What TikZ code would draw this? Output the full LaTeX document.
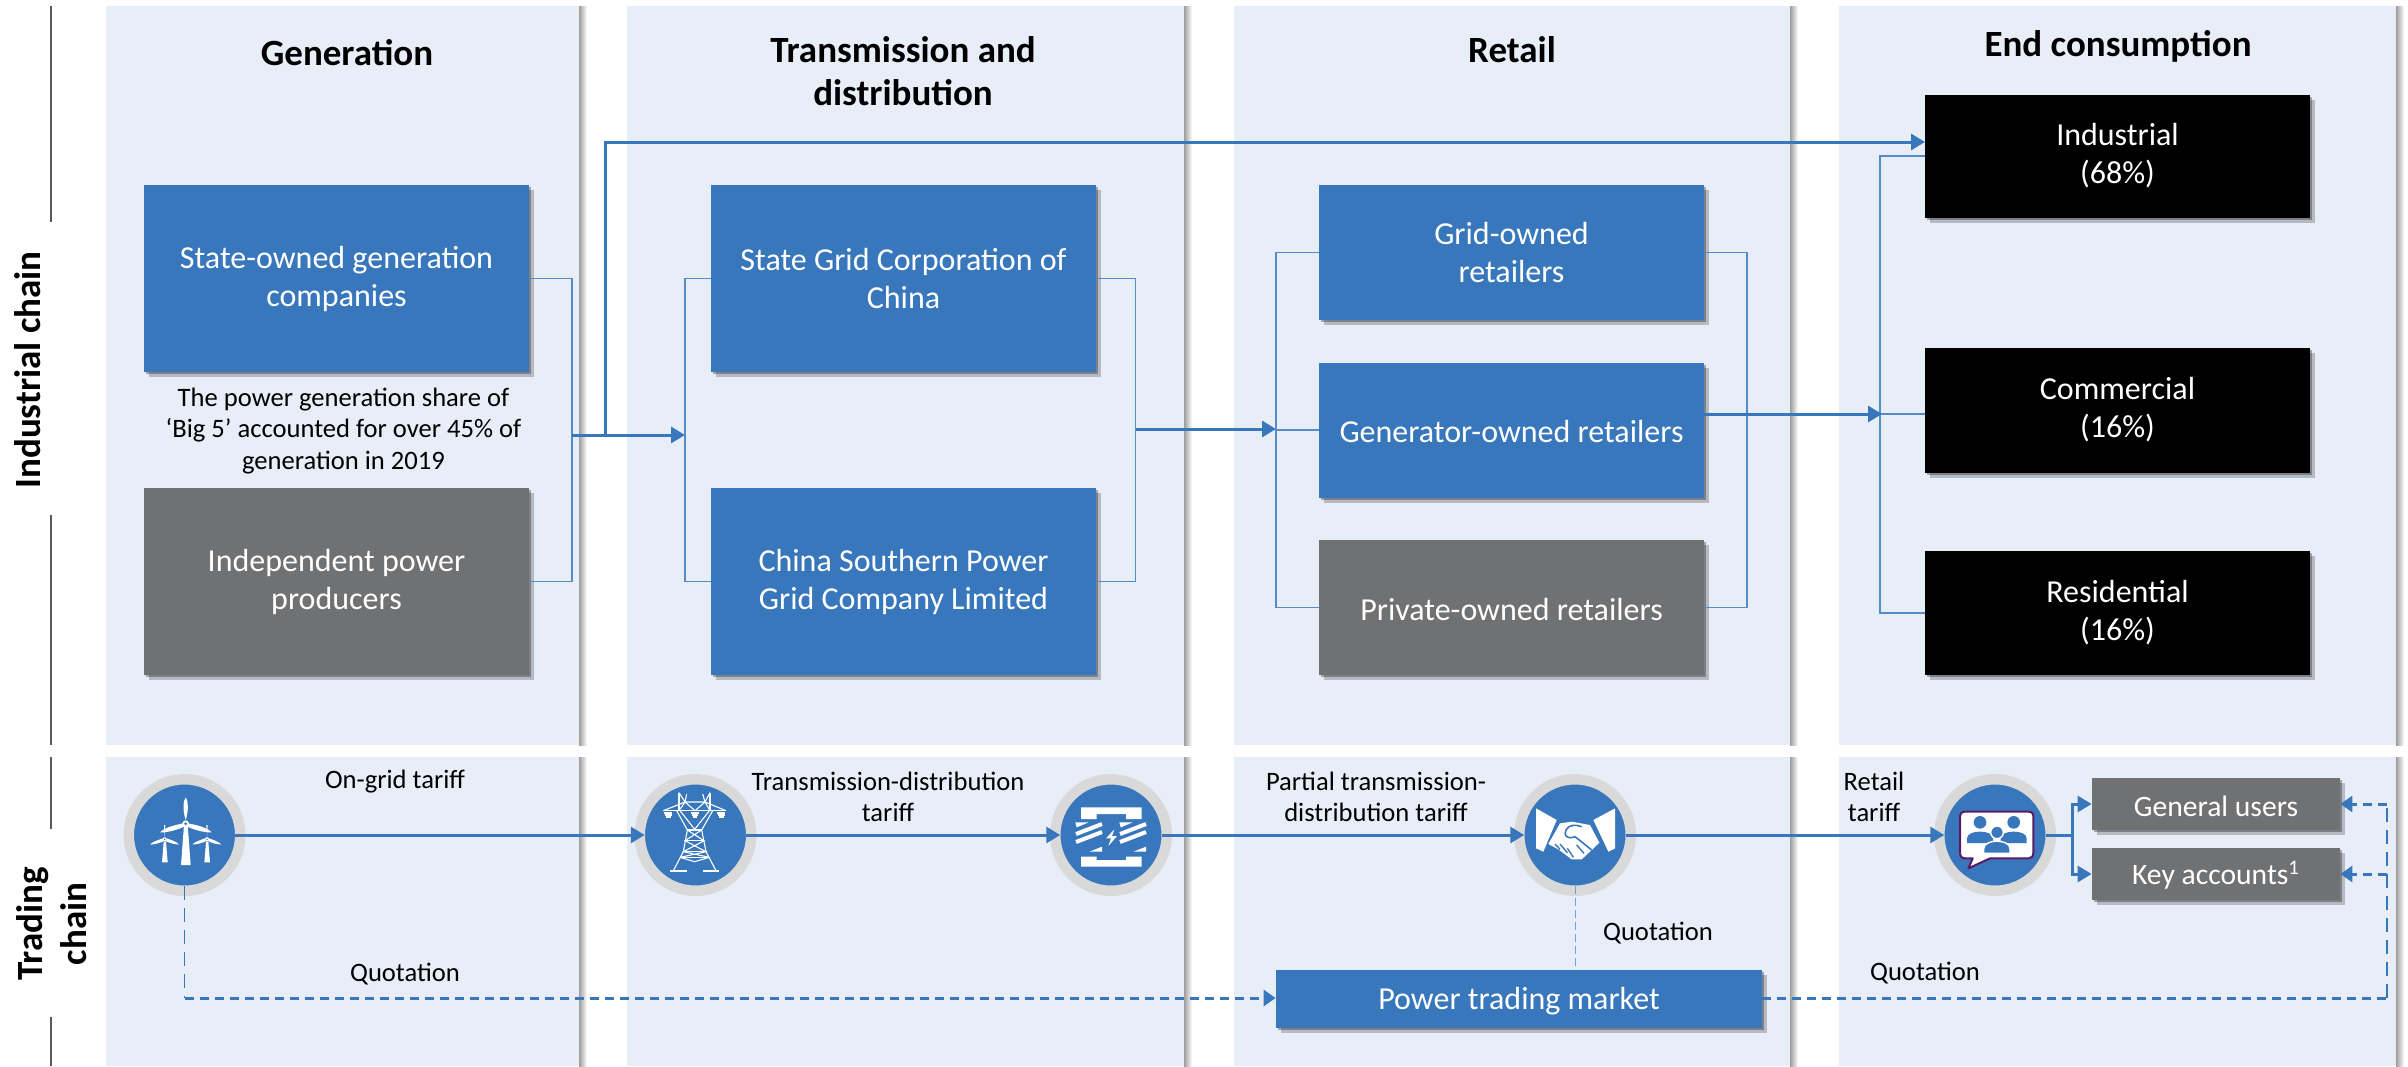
\documentclass[tikz,border=0pt]{standalone}
\usepackage{fontspec}
\setmainfont{Carlito}
\usetikzlibrary{positioning,shadows,arrows.meta}
\definecolor{panelblue}{HTML}{E8EEF8}
\definecolor{boxblue}{HTML}{3877BC}
\definecolor{boxgrey}{HTML}{707173}
\definecolor{ringgrey}{HTML}{D9D9D9}
\definecolor{bubblepurple}{HTML}{5A1B62}

\tikzset{
	softshadow/.style = {drop shadow={shadow xshift=1.2pt, shadow yshift=-1.2pt, opacity=.3, fill=black},
		drop shadow={shadow xshift=2.6pt, shadow yshift=-2.6pt, opacity=.22, fill=black}},
	box/.style = {shape=rectangle, align=center, text=white, inner sep=0pt, softshadow,
		font=\fontsize{16}{19}\selectfont, execute at begin node={\rule{0pt}{13pt}}},
	bluebox/.style = {box, fill=boxblue},
	greybox/.style = {box, fill=boxgrey},
	blackbox/.style = {box, fill=black, execute at begin node={\rule{0pt}{14.5pt}}},
	hub/.style = {shape=circle, fill=boxblue, draw=ringgrey, line width=5.25pt,
		minimum size=55.75pt, inner sep=0pt, outer sep=-2.5pt},
	head/.style = {align=center, font=\fontsize{18.5}{21.5}\selectfont\bfseries},
	side/.style = {align=center, rotate=90, font=\fontsize{18.5}{22}\selectfont\bfseries},
	note/.style = {align=center, font=\fontsize{13.3}{15.8}\selectfont},
	thinline/.style = {draw=boxblue!85!white, line width=.75pt},
	flow/.style = {draw=boxblue, line width=1.5pt, -{Triangle[length=7pt,width=8pt]}},
	quote/.style = {draw=boxblue, line width=1.5pt, dash pattern=on 4.5pt off 3pt},
	quotetip/.style = {quote, -{Triangle[length=6pt,width=8pt]}},
	quotethin/.style = {draw=boxblue, line width=.7pt, dash pattern=on 7pt off 4pt},
	rule/.style = {draw=black!65, line width=.75pt}
}

\begin{document}
\begin{tikzpicture}[x=.5pt, y=-.5pt]
	\useasboundingbox (0,0) rectangle (2408,1066);

	\foreach \xa/\xb in {106/579, 627/1184, 1234/1790, 1839/2396} {
		\fill[panelblue] (\xa,6) rectangle (\xb,745);
		\fill[panelblue] (\xa,757) rectangle (\xb,1066);
		\shade[left color=black!38, right color=white] (\xb,6) rectangle (\xb+8,745);
		\shade[left color=black!38, right color=white] (\xb,757) rectangle (\xb+8,1066);
	}

	\draw[rule] (51,6) -- (51,222);
	\draw[rule] (51,515) -- (51,745);
	\draw[rule] (51,757) -- (51,829);
	\draw[rule] (51,1017) -- (51,1066);
	\node[side] (industrialchain) at (28,370) {Industrial chain};
	\node[side] (tradingchain) at (52,924) {Trading\\chain};

	\node[head] (generation) at (347,53) {Generation};
	\node[head] (transmission) at (903,71) {Transmission and\\distribution};
	\node[head] (retail) at (1512,50) {Retail};
	\node[head] (consumption) at (2118,46) {End consumption};

	\node[bluebox, minimum width=192.5pt, minimum height=93.5pt] (stategen) at (336.5,278.5) {State-owned generation\\companies};
	\node[greybox, minimum width=192.5pt, minimum height=93.5pt] (indep) at (336.5,581.5) {Independent power\\producers};
	\node[note] (bigfive) at (343.5,431) {The power generation share of\\‘Big 5’ accounted for over 45\% of\\generation in 2019};

	\node[bluebox, minimum width=192.5pt, minimum height=93.5pt] (stategrid) at (903.5,278.5) {State Grid Corporation of\\China};
	\node[bluebox, minimum width=192.5pt, minimum height=93.5pt] (southern) at (903.5,581.5) {China Southern Power\\Grid Company Limited};

	\node[bluebox, minimum width=192.5pt, minimum height=67.5pt] (gridown) at (1511.5,252.5) {Grid-owned\\retailers};
	\node[bluebox, minimum width=192.5pt, minimum height=67.5pt] (genown) at (1511.5,430) {Generator-owned retailers};
	\node[greybox, minimum width=192.5pt, minimum height=67.5pt] (privown) at (1511.5,607.5) {Private-owned retailers};

	\node[blackbox, minimum width=192.5pt, minimum height=61.5pt] (industrial) at (2117.5,156) {Industrial\\(68\%)};
	\node[blackbox, minimum width=192.5pt, minimum height=62.5pt] (commercial) at (2117.5,410) {Commercial\\(16\%)};
	\node[blackbox, minimum width=192.5pt, minimum height=62pt] (residential) at (2117.5,613) {Residential\\(16\%)};

	\coordinate (genjoin) at (572,435);
	\coordinate (genbranch) at (605,435);
	\coordinate (gridjoin) at (685,435);
	\coordinate (gridout) at (1135.5,429);
	\coordinate (retailjoin) at (1276,429);
	\coordinate (retailout) at (1747,414);
	\coordinate (endjoin) at (1882,414);
	\coordinate (endrail) at (1880,414);
	\coordinate (topin) at (1925,142);

	\draw[thinline] (stategen.east) -| (genjoin) |- (indep.east);
	\draw[thinline] (stategrid.west) -| (gridjoin) |- (southern.west);
	\draw[thinline] (stategrid.east) -| (gridout) |- (southern.east);
	\draw[thinline] (gridown.west) -| (retailjoin) |- (privown.west);
	\draw[thinline] (retailjoin |- genown.west) -- (genown.west);
	\draw[thinline] (gridown.east) -| (retailout) |- (privown.east);
	\draw[thinline] (industrial.west) -| (endrail) |- (residential.west);
	\draw[thinline] (endrail) -- (endrail -| commercial.west);

	\draw[flow] (genjoin) -- (gridjoin);
	\draw[flow] (genbranch) |- (topin);
	\draw[flow] (gridout) -- (retailjoin);
	\draw[flow] (genown.east |- retailout) -- (endjoin);

	\node[hub] (wind) at (184.5,835) {};
	\node[hub] (pylon) at (695.5,835) {};
	\node[hub] (compress) at (1111,835) {};
	\node[hub] (handshake) at (1575,835) {};
	\node[hub] (chat) at (1995,835) {};

	\node[bluebox, minimum width=243pt, minimum height=29pt] (market) at (1519,999) {Power trading market};
	\node[greybox, minimum width=124pt, minimum height=26pt, font=\fontsize{14.8}{17}\selectfont] (general) at (2216,804) {General users};
	\node[greybox, minimum width=124pt, minimum height=26pt, font=\fontsize{14.8}{17}\selectfont] (key) at (2216,874) {Key accounts\textsuperscript{1}};

	\node[note] (ongrid) at (395,782) {On-grid tariff};
	\node[note] (tdtariff) at (888,797) {Transmission-distribution\\tariff};
	\node[note] (partial) at (1376,797) {Partial transmission-\\distribution tariff};
	\node[note] (retailtariff) at (1874,797) {Retail\\tariff};
	\node[note] (quotea) at (405,974) {Quotation};
	\node[note] (quoteb) at (1658,933) {Quotation};
	\node[note] (quotec) at (1925,973) {Quotation};

	\coordinate (windcorner) at (184.5,998);
	\coordinate (chatfork) at (2072,835);
	\coordinate (quotecorner) at (2387,998);

	\draw[flow] (wind) -- (pylon);
	\draw[flow] (pylon) -- (compress);
	\draw[flow] (compress) -- (handshake);
	\draw[flow] (handshake) -- (chat);
	\draw[flow] (chat) -- (chatfork) |- (general.west);
	\draw[flow] (chat) -- (chatfork) |- (key.west);

	\draw[quotethin] (wind) -- (windcorner);
	\draw[quotetip] (windcorner) -- (windcorner -| market.west);
	\draw[quotethin, draw=boxblue!70!white, line width=.5pt, dash pattern=on 4pt off 2pt] (handshake) -- (handshake |- market.north);
	\draw[quote] (windcorner -| market.east) -- (quotecorner);
	\draw[quotethin] (quotecorner) -- (quotecorner |- general.east);
	\draw[quotetip] (quotecorner |- general.east) -- (general.east);
	\draw[quotetip] (quotecorner |- key.east) -- (key.east);

	\begin{scope}[shift={(120,770)}, x=.1667pt, y=-.1667pt, white]
		\fill (183,285) -- (192,165) -- (203,165) -- (212,285) -- cycle;
		\fill (197,150) .. controls (187,120) and (190,90) .. (197,82) .. controls (204,90) and (207,120) .. (197,150) -- cycle;
		\fill (190,160) .. controls (165,165) and (135,172) .. (120,187) .. controls (145,188) and (175,178) .. (192,170) -- cycle;
		\fill (204,160) .. controls (230,165) and (260,172) .. (275,187) .. controls (250,188) and (220,178) .. (202,170) -- cycle;
		\fill (197,161) circle (10);
		\fill[boxblue] (197,161) circle (4.5);
		\foreach \dx in {0,127} {
			\begin{scope}[xshift=\dx*.1667pt]
				\fill (126,277) -- (131,215) -- (138,215) -- (143,277) -- cycle;
				\fill (134,200) -- (132,165) -- (136,165) -- cycle;
				\fill (128,205) .. controls (115,210) and (100,214) .. (90,223) .. controls (105,224) and (120,218) .. (130,214) -- cycle;
				\fill (140,205) .. controls (153,210) and (168,214) .. (177,223) .. controls (163,224) and (148,218) .. (138,214) -- cycle;
				\fill (134,208) circle (6.5);
				\fill[boxblue] (134,208) circle (2.5);
			\end{scope}
		}
	\end{scope}

	\begin{scope}[shift={(630,770)}, x=.1667pt, y=-.1667pt, draw=white, line width=.55pt]
		\draw (100,122) -- (288,122);
		\draw (100,122) -- (165,96) -- (225,96) -- (288,122);
		\draw (147,68) -- (165,96) -- (170,72) ;
		\draw (240,68) -- (225,96) -- (218,72);
		\draw (147,68) -- (147,122) (240,68) -- (240,122);
		\draw (147,122) -- (165,96) -- (195,122) -- (225,96) -- (240,122);
		\draw (140,122) -- (172,180) -- (160,245) -- (130,302) (248,122) -- (215,180) -- (228,245) -- (258,302);
		\draw (172,180) -- (215,180) (165,212) -- (222,212) (160,245) -- (228,245) (150,262) -- (238,262);
		\draw (172,180) -- (222,212) -- (160,245) -- (238,262) (215,180) -- (165,212) -- (228,245) -- (150,262);
		\draw (150,122) -- (194,178) -- (238,122);
		\draw (150,262) -- (194,275) -- (238,262);
		\draw[line width=1pt] (120,303) -- (170,303) (218,303) -- (268,303);
		\foreach \ix in {115,195,274} {
			\draw[line width=.9pt] (\ix-12,128) -- (\ix+12,128) (\ix-10,134) -- (\ix+10,134) (\ix-7,140) -- (\ix+7,140);
		}
	\end{scope}

	\begin{scope}[shift={(1046,770)}, x=.1667pt, y=-.1667pt, white]
		\fill (105,112) -- (287,112) -- (287,147) -- (240,147) -- (240,132) -- (152,132) -- (152,147) -- (105,147) -- cycle;
		\fill (105,290) -- (287,290) -- (287,260) -- (240,260) -- (240,270) -- (152,270) -- (152,260) -- (105,260) -- cycle;
		\foreach \dx in {0,132} {
			\begin{scope}[xshift=\dx*.1667pt]
				\draw[line width=2pt] (90,192) -- (168,162) (90,216) -- (168,186);
				\fill (88,157) -- (128,157) -- (92,172) -- cycle;
				\fill (130,245) -- (168,230) -- (168,245) -- cycle;
			\end{scope}
		}
		\fill (205,178) -- (180,205) -- (195,205) -- (187,228) -- (213,198) -- (198,198) -- cycle;
	\end{scope}

	\begin{scope}[shift={(1510,770)}, x=.1667pt, y=-.1667pt, white]
		\fill (78,115) -- (140,150) -- (100,245) -- (78,235) -- cycle;
		\fill (315,115) -- (250,150) -- (295,245) -- (315,235) -- cycle;
		\fill (150,160) -- (185,155) -- (240,165) -- (268,218) -- (245,240) -- (215,268) -- (185,268) -- (145,238) -- (115,222) -- cycle;
		\draw[boxblue, line width=.8pt] (195,200) .. controls (170,210) and (160,195) .. (168,180) .. controls (175,165) and (195,162) .. (215,170);
		\draw[boxblue, line width=.8pt] (195,200) -- (245,240);
		\draw[boxblue, line width=.7pt] (135,222) -- (150,238) (150,222) -- (172,248) (172,235) -- (190,262) (200,225) -- (222,250);
	\end{scope}

	\begin{scope}[shift={(1930,770)}, x=.1667pt, y=-.1667pt]
		\draw[fill=white, draw=bubblepurple, line width=1pt, line join=round] (105,125) -- (295,125) .. controls (308,125) and (310,132) .. (310,142) -- (310,248) .. controls (310,260) and (303,265) .. (295,265) -- (180,265) -- (115,295) -- (128,265) -- (105,265) .. controls (95,265) and (90,258) .. (90,248) -- (90,142) .. controls (90,130) and (95,125) .. (105,125) -- cycle;
		\fill[boxblue] (150,157) circle (19);
		\fill[boxblue] (251,157) circle (19);
		\fill[boxblue] (111,219) -- (111,205) .. controls (111,178) and (189,178) .. (189,205) -- (189,219) -- cycle;
		\fill[boxblue] (212,219) -- (212,205) .. controls (212,178) and (290,178) .. (290,205) -- (290,219) -- cycle;
		\filldraw[boxblue, draw=white, line width=.7pt] (201,187) circle (19);
		\filldraw[boxblue, draw=white, line width=.7pt] (161,250) -- (161,236) .. controls (161,206) and (240,206) .. (240,236) -- (240,250) -- cycle;
	\end{scope}
\end{tikzpicture}
\end{document}
